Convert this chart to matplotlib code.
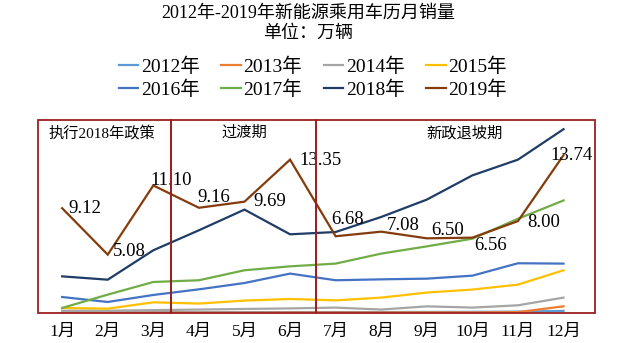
import matplotlib
matplotlib.use("Agg")
import matplotlib.pyplot as plt
from matplotlib.patches import Rectangle
import matplotlib.transforms as mtrans

plt.rcParams['font.family'] = ['Liberation Serif', 'Noto Sans CJK SC', 'DejaVu Sans']

months = ["1月", "2月", "3月", "4月", "5月", "6月", "7月", "8月", "9月", "10月", "11月", "12月"]
years = ["2012年", "2013年", "2014年", "2015年", "2016年", "2017年", "2018年", "2019年"]

s2012 = [0.05, 0.05, 0.06, 0.06, 0.07, 0.08, 0.08, 0.08, 0.09, 0.10, 0.12, 0.18]
s2013 = [0.02, 0.02, 0.03, 0.03, 0.03, 0.04, 0.04, 0.04, 0.05, 0.05, 0.08, 0.58]
s2014 = [0.20, 0.20, 0.25, 0.30, 0.35, 0.40, 0.47, 0.30, 0.58, 0.47, 0.67, 1.34]
s2015 = [0.44, 0.38, 0.93, 0.82, 1.08, 1.22, 1.10, 1.34, 1.78, 2.04, 2.47, 3.72]
s2016 = [1.39, 0.96, 1.57, 2.06, 2.61, 3.43, 2.85, 2.93, 2.99, 3.25, 4.33, 4.30]
s2017 = [0.44, 1.60, 2.70, 2.85, 3.72, 4.06, 4.30, 5.17, 5.80, 6.47, 8.20, 9.80]
s2018 = [3.19, 2.90, 5.46, 7.20, 9.00, 6.85, 7.05, 8.36, 9.87, 11.98, 13.35, 16.00]
s2019 = [9.12, 5.08, 11.10, 9.16, 9.69, 13.35, 6.68, 7.08, 6.50, 6.56, 8.00, 13.74]

label_offsets = [(6, 0), (5, 3), (-3, 5), (-2, 10), (9, 0), (9, -1),
                 (-4, 17), (6, 6), (4, 8), (2, -8), (9, -1), (-13, 0)]

periods = ["执行2018年政策", "过渡期", "新政退坡期"]

colors = ["#5B9BD5", "#ED7D31", "#A5A5A5", "#FFC000",
          "#4472C4", "#70AD47", "#1F3D66", "#843C0C"]
series = [s2012, s2013, s2014, s2015, s2016, s2017, s2018, s2019]

fig = plt.figure(figsize=(6.4, 3.43), dpi=100)
W, H = 640, 343
ax = fig.add_axes([38 / W, 1 - 313 / H, (595 - 38) / W, (313 - 120) / H])

x = list(range(1, 13))
handles = []
for name, vals, c in zip(years, series, colors):
    h, = ax.plot(x, vals, color=c, lw=1.6, label=name, solid_joinstyle='miter')
    handles.append(h)

for xi, v, (dx, dy) in zip(x, s2019, label_offsets):
    ax.annotate(f"{v:.2f}", (xi, v), xytext=(dx, dy), textcoords='offset pixels',
                ha='left', va='center', fontsize=13.5, color='black',
                family=['Liberation Serif', 'DejaVu Serif'])

ax.set_xlim(0.47, 12.69)
ax.set_ylim(0, 16.8)
for sp in ax.spines.values():
    sp.set_visible(False)
ax.set_yticks([])
ax.set_xticks(x)
ax.set_xticklabels(months, fontsize=12.5)
ax.tick_params(axis='x', length=0, pad=8)

# period boxes
edges = [0.47, 3.39, 6.57, 12.69]
trans = mtrans.blended_transform_factory(ax.transData, ax.transAxes)
box_color = "#9C1F1F"
for i in range(3):
    r = Rectangle((edges[i], 0), edges[i + 1] - edges[i], 1, transform=trans,
                  fill=False, edgecolor=box_color, lw=1.3, clip_on=False, zorder=5)
    ax.add_patch(r)

period_x = [1.88, 4.99, 9.82]
for px, t in zip(period_x, periods):
    ax.text(px, 0.933, t, transform=trans, ha='center', va='center', fontsize=11)

fig.text(308 / W, 1 - 13 / H, "2012年-2019年新能源乘用车历月销量", ha='center', va='center', fontsize=13)
fig.text(308 / W, 1 - 33 / H, "单位：万辆", ha='center', va='center', fontsize=13)

# row-major legend order for ncol=4
order = [0, 4, 1, 5, 2, 6, 3, 7]
leg = fig.legend(handles=[handles[i] for i in order], labels=[years[i] for i in order],
                 ncol=4, loc='center',
                 bbox_to_anchor=(313 / W, 1 - 78 / H), frameon=False,
                 fontsize=14, handlelength=1.0, handletextpad=0.15,
                 columnspacing=1.1, labelspacing=0.22, borderpad=0)

fig.savefig("out.png", dpi=100)
